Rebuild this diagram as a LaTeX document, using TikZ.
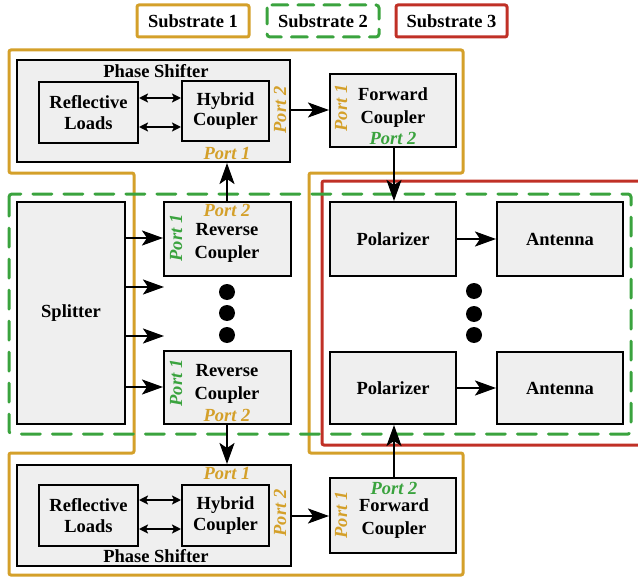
\documentclass[tikz,border=0pt]{standalone}
\usepackage{fontspec}
\setmainfont{Liberation Serif}
\usetikzlibrary{arrows.meta}
\definecolor{subgold}{RGB}{212,160,42}
\definecolor{subgreen}{RGB}{58,163,62}
\definecolor{subred}{RGB}{192,48,38}
\definecolor{boxfill}{RGB}{239,239,239}
\tikzset{
  blk/.style={draw=black, line width=2pt, fill=boxfill, inner sep=0pt},
  txt/.style={font=\fontsize{18.5}{20.5}\selectfont\bfseries, align=center, inner sep=0pt},
  wide/.style={font=\fontsize{18.5}{23}\selectfont\bfseries},
  portgold/.style={font=\fontsize{18.5}{20}\selectfont\bfseries\itshape, text=subgold, inner sep=0pt},
  portgreen/.style={font=\fontsize{18.5}{20}\selectfont\bfseries\itshape, text=subgreen, inner sep=0pt},
  arr/.style={-{Stealth[length=21pt,width=15pt,inset=5pt]}, line width=2.4pt},
  darr/.style={{Stealth[length=9pt,width=9pt,inset=2pt]}-{Stealth[length=9pt,width=9pt,inset=2pt]}, line width=1.8pt},
  sub1/.style={draw=subgold, line width=3pt, rounded corners=2pt},
  sub2/.style={draw=subgreen, line width=3pt, rounded corners=3pt, dash pattern=on 19pt off 12pt, line cap=round},
  sub3/.style={draw=subred, line width=3pt, rounded corners=2pt},
  dot/.style={circle, fill=black, inner sep=0pt, minimum size=16pt},
}
\begin{document}
\begin{tikzpicture}[x=1pt, y=-1pt]
\useasboundingbox (0,0) rectangle (638,578);

% legend
\draw[sub1] (137,5) rectangle (249,37);
\node[txt] (leg1) at (193,21) {Substrate 1};
\draw[sub2, dash pattern=on 16pt off 10pt] (267,5) rectangle (379,37);
\node[txt] (leg2) at (323,21) {Substrate 2};
\draw[sub3] (396,5) rectangle (507,37);
\node[txt] (leg3) at (451.5,21) {Substrate 3};

% substrate outlines
\draw[sub1] (9,50) -- (463,50) -- (463,173) -- (309,173) -- (309,453) -- (463,453)
  -- (463,575) -- (9,575) -- (9,453) -- (134,453) -- (134,173) -- (9,173) -- cycle;
\draw[sub3] (640,181) -- (322,181) -- (322,445) -- (640,445);
\draw[sub2] (9,194) rectangle (631,434);

% upper phase shifter
\node[blk, minimum width=273pt, minimum height=102pt] (psT) at (153.5,111) {};
\node[txt] (psTlbl) at (156,71) {Phase Shifter};
\node[blk, minimum width=99pt, minimum height=61pt] (rlT) at (88.5,112.5) {};
\node[txt] at (rlT.center) {Reflective\\Loads};
\node[blk, minimum width=87pt, minimum height=60pt] (hcT) at (225.5,111) {};
\node[txt] at (hcT.center) {Hybrid\\Coupler};
\node[portgold, rotate=90] (hcTp2) at (280,110) {Port 2};
\node[portgold] (hcTp1) at (227,153) {Port 1};
\draw[darr] (rlT.east |- 0,98) -- (hcT.west |- 0,98);
\draw[darr] (rlT.east |- 0,127) -- (hcT.west |- 0,127);

% upper forward coupler
\node[blk, minimum width=126pt, minimum height=73pt] (fcT) at (393,110.5) {};
\node[txt, wide] (fcTlbl) at (393,107.5) {Forward\\Coupler};
\node[portgold, rotate=90] (fcTp1) at (341,108) {Port 1};
\node[portgreen] (fcTp2) at (393,138) {Port 2};

% splitter
\node[blk, minimum width=108pt, minimum height=222pt] (spl) at (71,313) {};
\node[txt] at (spl.center) {Splitter};

% reverse couplers
\node[blk, minimum width=127pt, minimum height=74pt] (rc1) at (227.5,239) {};
\node[txt, wide] (rc1lbl) at (227,243) {Reverse\\Coupler};
\node[portgold] (rc1p2) at (227,210.5) {Port 2};
\node[portgreen, rotate=90] (rc1p1) at (176,238) {Port 1};

\node[blk, minimum width=127pt, minimum height=73pt] (rc2) at (227.5,387.5) {};
\node[txt, wide] (rc2lbl) at (227,383.5) {Reverse\\Coupler};
\node[portgold] (rc2p2) at (227,415) {Port 2};
\node[portgreen, rotate=90] (rc2p1) at (176,383) {Port 1};

\node[dot] (d1) at (227,292) {};
\node[dot] (d2) at (227,313) {};
\node[dot] (d3) at (227,335) {};

% lower phase shifter
\node[blk, minimum width=274pt, minimum height=101pt] (psB) at (154,515.5) {};
\node[txt] (psBlbl) at (156,556) {Phase Shifter};
\node[blk, minimum width=99pt, minimum height=61pt] (rlB) at (88.5,515.5) {};
\node[txt] at (rlB.center) {Reflective\\Loads};
\node[blk, minimum width=87pt, minimum height=61pt] (hcB) at (225.5,515.5) {};
\node[txt] at (hcB.center) {Hybrid\\Coupler};
\node[portgold, rotate=90] (hcBp2) at (280,513) {Port 2};
\node[portgold] (hcBp1) at (227,473) {Port 1};
\draw[darr] (rlB.east |- 0,500) -- (hcB.west |- 0,500);
\draw[darr] (rlB.east |- 0,529) -- (hcB.west |- 0,529);

% lower forward coupler
\node[blk, minimum width=126pt, minimum height=75pt] (fcB) at (393,515.5) {};
\node[txt, wide] (fcBlbl) at (394,519) {Forward\\Coupler};
\node[portgold, rotate=90] (fcBp1) at (341,515) {Port 1};
\node[portgreen] (fcBp2) at (394,488) {Port 2};

% polarizers and antennas
\node[blk, minimum width=126pt, minimum height=74pt] (pol1) at (393,239) {};
\node[txt] at (pol1.center) {Polarizer};
\node[blk, minimum width=126pt, minimum height=74pt] (ant1) at (560,239) {};
\node[txt] at (ant1.center) {Antenna};
\node[blk, minimum width=126pt, minimum height=72pt] (pol2) at (393,388) {};
\node[txt] at (pol2.center) {Polarizer};
\node[blk, minimum width=126pt, minimum height=72pt] (ant2) at (560,388) {};
\node[txt] at (ant2.center) {Antenna};

\node[dot] (e1) at (474,291) {};
\node[dot] (e2) at (474,314) {};
\node[dot] (e3) at (474,335) {};

% signal connections
\draw[arr] (psT.east |- 0,110) -- (fcT.west |- 0,110);
\draw[arr] (fcT.south -| 394,0) -- (pol1.north -| 394,0);
\draw[arr] (rc1.north -| 227,0) -- (psT.south -| 227,0);
\draw[arr] (rc2.south -| 227,0) -- (psB.north -| 227,0);
\draw[arr] (psB.east |- 0,516) -- (fcB.west |- 0,516);
\draw[arr] (fcB.north -| 394,0) -- (pol2.south -| 394,0);

\coordinate (sa2) at (164,287);
\coordinate (sa3) at (164,336);
\draw[arr] (spl.east |- 0,238) -- (rc1.west |- 0,238);
\draw[arr] (spl.east |- sa2) -- (sa2);
\draw[arr] (spl.east |- sa3) -- (sa3);
\draw[arr] (spl.east |- 0,387) -- (rc2.west |- 0,387);

\draw[arr] (pol1) -- (ant1);
\draw[arr] (pol2) -- (ant2);
\end{tikzpicture}
\end{document}
